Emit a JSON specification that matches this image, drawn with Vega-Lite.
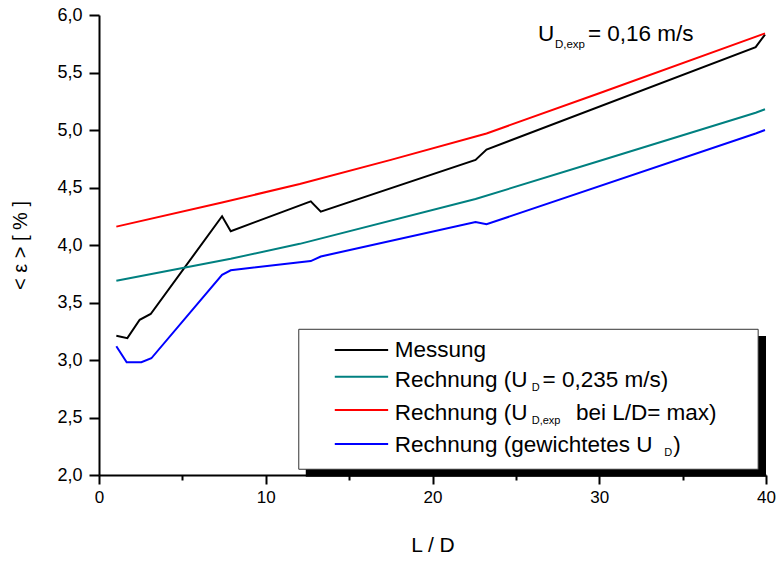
{
  "$schema": "https://vega.github.io/schema/vega-lite/v6.json",
  "width": 667,
  "height": 460,
  "autosize": "none",
  "padding": {"left": 99, "top": 15, "right": 12, "bottom": 86},
  "background": "white",
  "config": {
    "view": {"stroke": null},
    "font": "Liberation Sans",
    "text": {"font": "Liberation Sans", "color": "black"},
    "axis": {
      "grid": false,
      "labelFlush": false,
      "labelOverlap": false,
      "domainColor": "black",
      "domainWidth": 2,
      "tickColor": "black",
      "tickWidth": 2,
      "labelColor": "black",
      "labelFont": "Liberation Sans",
      "labelFontSize": 17,
      "titleFont": "Liberation Sans",
      "titleFontWeight": "normal",
      "titleColor": "black"
    }
  },
  "data": {
    "values": [
      {"LD": 1.04, "eps": 3.21, "s": "Messung"},
      {"LD": 1.7, "eps": 3.19, "s": "Messung"},
      {"LD": 2.44, "eps": 3.35, "s": "Messung"},
      {"LD": 3.1, "eps": 3.4, "s": "Messung"},
      {"LD": 7.38, "eps": 4.25, "s": "Messung"},
      {"LD": 7.9, "eps": 4.12, "s": "Messung"},
      {"LD": 12.7, "eps": 4.38, "s": "Messung"},
      {"LD": 13.3, "eps": 4.29, "s": "Messung"},
      {"LD": 22.58, "eps": 4.74, "s": "Messung"},
      {"LD": 23.24, "eps": 4.83, "s": "Messung"},
      {"LD": 39.38, "eps": 5.72, "s": "Messung"},
      {"LD": 39.94, "eps": 5.83, "s": "Messung"},
      {"LD": 1.04, "eps": 3.69, "s": "teal"},
      {"LD": 7.9, "eps": 3.88, "s": "teal"},
      {"LD": 12.04, "eps": 4.01, "s": "teal"},
      {"LD": 22.58, "eps": 4.4, "s": "teal"},
      {"LD": 30.0, "eps": 4.73, "s": "teal"},
      {"LD": 39.38, "eps": 5.15, "s": "teal"},
      {"LD": 39.94, "eps": 5.18, "s": "teal"},
      {"LD": 1.04, "eps": 4.16, "s": "red"},
      {"LD": 7.38, "eps": 4.37, "s": "red"},
      {"LD": 12.04, "eps": 4.53, "s": "red"},
      {"LD": 17.5, "eps": 4.74, "s": "red"},
      {"LD": 23.24, "eps": 4.97, "s": "red"},
      {"LD": 30.0, "eps": 5.32, "s": "red"},
      {"LD": 39.94, "eps": 5.84, "s": "red"},
      {"LD": 1.04, "eps": 3.12, "s": "blue"},
      {"LD": 1.66, "eps": 2.98, "s": "blue"},
      {"LD": 2.54, "eps": 2.98, "s": "blue"},
      {"LD": 3.14, "eps": 3.015, "s": "blue"},
      {"LD": 7.38, "eps": 3.74, "s": "blue"},
      {"LD": 7.9, "eps": 3.78, "s": "blue"},
      {"LD": 12.04, "eps": 3.85, "s": "blue"},
      {"LD": 12.7, "eps": 3.86, "s": "blue"},
      {"LD": 13.3, "eps": 3.9, "s": "blue"},
      {"LD": 22.58, "eps": 4.2, "s": "blue"},
      {"LD": 23.24, "eps": 4.18, "s": "blue"},
      {"LD": 39.38, "eps": 4.97, "s": "blue"},
      {"LD": 39.94, "eps": 5.0, "s": "blue"}
    ]
  },
  "layer": [
    {
      "mark": {"type": "line", "strokeWidth": 2, "clip": false},
      "encoding": {
        "x": {
          "field": "LD", "type": "quantitative",
          "scale": {"domain": [0, 40], "nice": false, "zero": false},
          "axis": {
            "values": [0, 5, 10, 15, 20, 25, 30, 35, 40],
            "labelExpr": "datum.value % 10 === 0 ? format(datum.value, 'd') : ''",
            "tickSize": {"condition": {"test": "datum.value % 10 === 0", "value": 9}, "value": 5},
            "labelPadding": 5,
            "title": "L / D",
            "titleFontSize": 21,
            "titlePadding": 29
          }
        },
        "y": {
          "field": "eps", "type": "quantitative",
          "scale": {"domain": [2, 6], "nice": false, "zero": false},
          "axis": {
            "values": [2, 2.25, 2.5, 2.75, 3, 3.25, 3.5, 3.75, 4, 4.25, 4.5, 4.75, 5, 5.25, 5.5, 5.75, 6],
            "labelExpr": "(datum.value * 2) % 1 === 0 ? replace(format(datum.value, '.1f'), '.', ',') : ''",
            "tickSize": {"condition": {"test": "(datum.value * 2) % 1 === 0", "value": 10}, "value": 5},
            "labelPadding": 7,
            "labelFontSize": 18,
            "title": "< ε >  [ % ]",
            "titleFontSize": 20,
            "titlePadding": 26
          }
        },
        "color": {
          "field": "s", "type": "nominal",
          "scale": {"domain": ["Messung", "teal", "red", "blue"], "range": ["#000000", "#008080", "#FF0000", "#0000FF"]},
          "legend": null
        }
      }
    },
    {
      "data": {"values": [{}]},
      "mark": {"type": "rect", "fill": "black", "clip": false},
      "encoding": {"x": {"datum": 12.4}, "x2": {"datum": 40.0}, "y": {"datum": 3.209}, "y2": {"datum": 1.985}}
    },
    {
      "data": {"values": [{}]},
      "mark": {"type": "rect", "fill": "white", "stroke": "#333333", "strokeWidth": 1, "clip": false},
      "encoding": {"x": {"datum": 11.98}, "x2": {"datum": 39.53}, "y": {"datum": 3.267}, "y2": {"datum": 2.05}}
    },
    {
      "data": {"values": [{}]},
      "mark": {"type": "rule", "color": "#000000", "strokeWidth": 2},
      "encoding": {"x": {"datum": 14.14}, "x2": {"datum": 17.34}, "y": {"datum": 3.087}}
    },
    {
      "data": {"values": [{}]},
      "mark": {"type": "rule", "color": "#008080", "strokeWidth": 2},
      "encoding": {"x": {"datum": 14.14}, "x2": {"datum": 17.34}, "y": {"datum": 2.855}}
    },
    {
      "data": {"values": [{}]},
      "mark": {"type": "rule", "color": "#FF0000", "strokeWidth": 2},
      "encoding": {"x": {"datum": 14.14}, "x2": {"datum": 17.34}, "y": {"datum": 2.565}}
    },
    {
      "data": {"values": [{}]},
      "mark": {"type": "rule", "color": "#0000FF", "strokeWidth": 2},
      "encoding": {"x": {"datum": 14.14}, "x2": {"datum": 17.34}, "y": {"datum": 2.27}}
    },
    {
      "data": {"values": [{}]},
      "mark": {"type": "text", "text": "Messung", "align": "left", "baseline": "alphabetic", "fontSize": 22.5},
      "encoding": {"x": {"datum": 17.74}, "y": {"datum": 3.023}}
    },
    {
      "data": {"values": [{}]},
      "mark": {"type": "text", "text": "Rechnung (U", "align": "left", "baseline": "alphabetic", "fontSize": 22.5},
      "encoding": {"x": {"datum": 17.74}, "y": {"datum": 2.768}}
    },
    {
      "data": {"values": [{}]},
      "mark": {"type": "text", "text": "D", "align": "left", "baseline": "alphabetic", "fontSize": 11},
      "encoding": {"x": {"datum": 25.95}, "y": {"datum": 2.733}}
    },
    {
      "data": {"values": [{}]},
      "mark": {"type": "text", "text": "= 0,235 m/s)", "align": "left", "baseline": "alphabetic", "fontSize": 22.5},
      "encoding": {"x": {"datum": 26.6}, "y": {"datum": 2.768}}
    },
    {
      "data": {"values": [{}]},
      "mark": {"type": "text", "text": "Rechnung (U", "align": "left", "baseline": "alphabetic", "fontSize": 22.5},
      "encoding": {"x": {"datum": 17.74}, "y": {"datum": 2.478}}
    },
    {
      "data": {"values": [{}]},
      "mark": {"type": "text", "text": "D,exp", "align": "left", "baseline": "alphabetic", "fontSize": 11},
      "encoding": {"x": {"datum": 25.95}, "y": {"datum": 2.441}}
    },
    {
      "data": {"values": [{}]},
      "mark": {"type": "text", "text": "bei L/D= max)", "align": "left", "baseline": "alphabetic", "fontSize": 22.5},
      "encoding": {"x": {"datum": 28.6}, "y": {"datum": 2.478}}
    },
    {
      "data": {"values": [{}]},
      "mark": {"type": "text", "text": "Rechnung (gewichtetes U", "align": "left", "baseline": "alphabetic", "fontSize": 22.5},
      "encoding": {"x": {"datum": 17.74}, "y": {"datum": 2.203}}
    },
    {
      "data": {"values": [{}]},
      "mark": {"type": "text", "text": "D", "align": "left", "baseline": "alphabetic", "fontSize": 11},
      "encoding": {"x": {"datum": 33.9}, "y": {"datum": 2.165}}
    },
    {
      "data": {"values": [{}]},
      "mark": {"type": "text", "text": ")", "align": "left", "baseline": "alphabetic", "fontSize": 22.5},
      "encoding": {"x": {"datum": 34.44}, "y": {"datum": 2.203}}
    },
    {
      "data": {"values": [{}]},
      "mark": {"type": "text", "text": "U", "align": "left", "baseline": "alphabetic", "fontSize": 22.5},
      "encoding": {"x": {"datum": 26.32}, "y": {"datum": 5.774}}
    },
    {
      "data": {"values": [{}]},
      "mark": {"type": "text", "text": "D,exp", "align": "left", "baseline": "alphabetic", "fontSize": 11.5},
      "encoding": {"x": {"datum": 27.34}, "y": {"datum": 5.713}}
    },
    {
      "data": {"values": [{}]},
      "mark": {"type": "text", "text": "= 0,16 m/s", "align": "left", "baseline": "alphabetic", "fontSize": 22.5},
      "encoding": {"x": {"datum": 29.32}, "y": {"datum": 5.774}}
    }
  ]
}
